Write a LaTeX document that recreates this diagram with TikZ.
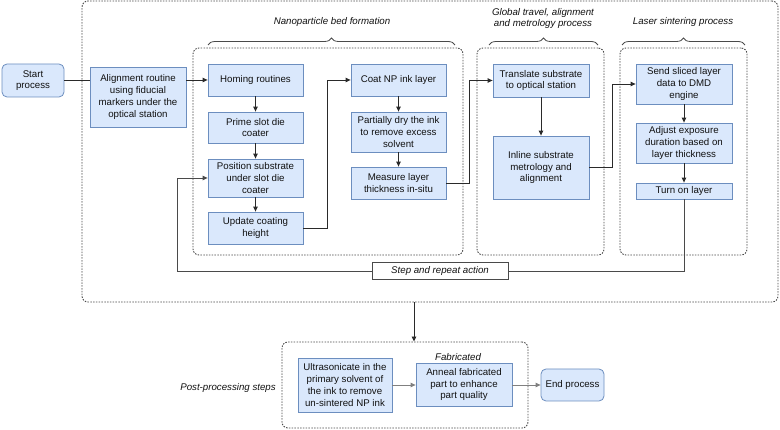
\documentclass[tikz,border=0pt]{standalone}
\usepackage{fontspec}
\setmainfont{Liberation Sans}
\usetikzlibrary{arrows.meta,decorations.pathreplacing}
\definecolor{boxfill}{HTML}{DAE8FC}
\definecolor{boxdraw}{HTML}{6C8EBF}
\definecolor{lineC}{HTML}{2A2A2A}
\definecolor{grpC}{HTML}{4A4A4A}
\definecolor{txtC}{HTML}{111111}
\tikzset{
  every node/.style={font=\fontsize{9.7}{11.7}\selectfont, text=txtC},
  pbox/.style={draw=boxdraw, fill=boxfill, line width=0.8pt, align=center, inner sep=1pt},
  rbox/.style={pbox, rounded corners=5pt},
  grp/.style={draw=grpC, line width=0.9pt, dash pattern=on 1.5pt off 1.3pt, rounded corners=6pt, inner sep=0pt},
  lbl/.style={font=\fontsize{9.7}{11.7}\selectfont\itshape, align=center},
  arr/.style={draw=lineC, line width=0.9pt, -{Triangle[length=5pt,width=4.5pt]}},
  ln/.style={draw=lineC, line width=0.9pt},
  brc/.style={draw=grpC, line width=0.8pt, decorate, decoration={brace, amplitude=7pt, aspect=0.5}},
}
\begin{document}
\begin{tikzpicture}[x=1pt,y=-1pt]
\useasboundingbox (0,0) rectangle (780,430);
% groups
\node[grp, minimum width=696, minimum height=301] (outer) at (430,151.5) {};
\node[grp, minimum width=270, minimum height=207] (g1) at (328,151.5) {};
\node[grp, minimum width=127, minimum height=207] (g2) at (540.5,151.5) {};
\node[grp, minimum width=127, minimum height=207] (g3) at (683.5,151.5) {};
\node[grp, minimum width=246, minimum height=86] (post) at (405,385) {};
% braces
\coordinate (b1a) at (208,45); \coordinate (b1b) at (455,45);
\coordinate (b2a) at (489,45); \coordinate (b2b) at (598,45);
\coordinate (b3a) at (622,45); \coordinate (b3b) at (745,45);
\draw[brc] (b1a) -- (b1b);
\draw[brc] (b2a) -- (b2b);
\draw[brc] (b3a) -- (b3b);
\node[lbl] (l1) at (332,22) {Nanoparticle bed formation};
\node[lbl] (l2) at (543,18.5) {Global travel, alignment\\and metrology process};
\node[lbl] (l3) at (683,22) {Laser sintering process};
\node[lbl] (l4) at (458,357) {Fabricated};
\node[lbl] (l5) at (228,388) {Post-processing steps};
% boxes
\node[rbox, minimum width=62, minimum height=33] (start) at (33,80.5) {Start\\process};
\node[pbox, minimum width=96, minimum height=60] (align) at (138,97) {Alignment routine\\using fiducial\\markers under the\\optical station};
\node[pbox, minimum width=95, minimum height=32] (homing) at (255.5,80) {Homing routines};
\node[pbox, minimum width=95, minimum height=31] (prime) at (255.5,127.5) {Prime slot die\\coater};
\node[pbox, minimum width=95, minimum height=38] (position) at (255.5,178) {Position substrate\\under slot die\\coater};
\node[pbox, minimum width=95, minimum height=32] (update) at (255.5,228) {Update coating\\height};
\node[pbox, minimum width=95, minimum height=32] (coat) at (398.5,80) {Coat NP ink layer};
\node[pbox, minimum width=95, minimum height=40] (dry) at (398.5,132) {Partially dry the ink\\to remove excess\\solvent};
\node[pbox, minimum width=95, minimum height=32] (measure) at (398.5,183) {Measure layer\\thickness in-situ};
\node[pbox, minimum width=96, minimum height=33] (translate) at (541,80.5) {Translate substrate\\to optical station};
\node[pbox, minimum width=96, minimum height=63] (inline) at (541,167.5) {Inline substrate\\metrology and\\alignment};
\node[pbox, minimum width=96, minimum height=40] (send) at (684,84) {Send sliced layer\\data to DMD\\engine};
\node[pbox, minimum width=96, minimum height=40] (adjust) at (684,143) {Adjust exposure\\duration based on\\layer thickness};
\node[pbox, minimum width=96, minimum height=16] (turnon) at (684,191) {Turn on layer};
\node[draw=grpC, fill=white, line width=0.9pt, minimum width=136, minimum height=17, inner sep=1pt, lbl] (step) at (440,271) {Step and repeat action};
\node[pbox, minimum width=94, minimum height=54] (ultra) at (345,385) {Ultrasonicate in the\\primary solvent of\\the ink to remove\\un-sintered NP ink};
\node[pbox, minimum width=96, minimum height=43] (anneal) at (464,384.5) {Anneal fabricated\\part to enhance\\part quality};
\node[rbox, minimum width=63, minimum height=32] (end) at (572.5,385) {End process};
% connectors
\draw[ln] (start.east) -- (start.east -| align.west);
\draw[arr] (align.east |- homing.west) -- (homing.west);
\draw[arr] (homing) -- (prime);
\draw[arr] (prime) -- (position);
\draw[arr] (position) -- (update);
\draw[arr] (update.east) -- ++(24,0) |- (coat.west);
\draw[arr] (coat) -- (dry);
\draw[arr] (dry) -- (measure);
\draw[arr] (measure.east) -- ++(23,0) |- (translate.west);
\draw[arr] (translate) -- (inline);
\draw[arr] (inline.east) -- ++(23,0) |- (send.west);
\draw[arr] (send) -- (adjust);
\draw[arr] (adjust) -- (turnon);
\draw[ln, draw=grpC] (turnon.south) |- (step.east);
\coordinate (loopL) at (177,271);
\draw[arr, draw=grpC] (step.west) -- (loopL) |- (position.west);
\coordinate (dn) at (414,0);
\draw[arr] (outer.south -| dn) -- (post.north -| dn);
\draw[arr, draw=gray] (ultra.east |- 0,385) -- (anneal.west |- 0,385);
\draw[arr, draw=gray] (anneal.east |- 0,385) -- (end.west |- 0,385);
\end{tikzpicture}
\end{document}
